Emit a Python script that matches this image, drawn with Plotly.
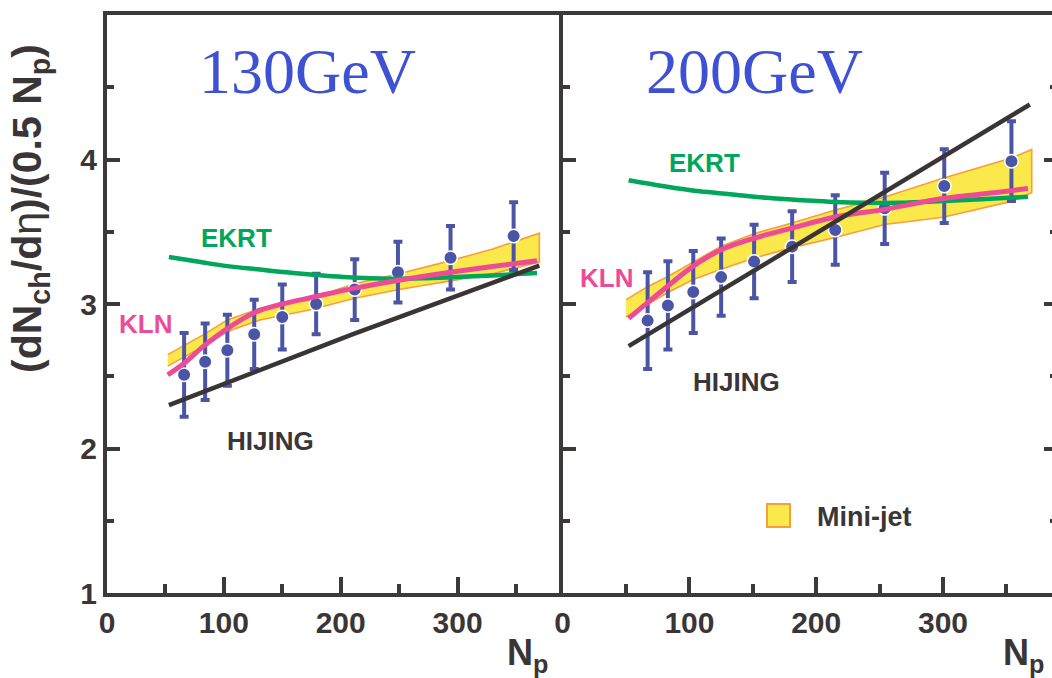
import plotly.graph_objects as go

# ---------------- data ----------------
# 130 GeV panel
np130 = [66, 84, 103, 126, 150, 179, 212, 249, 294, 348]
val130 = [2.51, 2.60, 2.68, 2.79, 2.91, 3.00, 3.10, 3.22, 3.32, 3.47]
err130 = [0.29, 0.265, 0.245, 0.24, 0.225, 0.21, 0.21, 0.21, 0.22, 0.235]

ekrt130_x = [53, 80, 103, 131, 150, 174, 214, 240, 270, 294, 330, 368]
ekrt130_y = [3.325, 3.29, 3.262, 3.238, 3.222, 3.204, 3.181, 3.175, 3.178, 3.185, 3.198, 3.215]

kln130_x = [52, 66, 83, 103, 126, 150, 175, 212, 250, 294, 330, 368]
kln130_y = [2.51, 2.59, 2.71, 2.83, 2.94, 3.00, 3.045, 3.11, 3.165, 3.22, 3.26, 3.30]

hij130_x = [53, 210, 370]
hij130_y = [2.30, 2.79, 3.265]

mj130_x = [52, 65, 83, 103, 131, 174, 212, 250, 294, 330, 370]
mj130_up = [2.65, 2.71, 2.79, 2.89, 2.97, 3.04, 3.14, 3.21, 3.30, 3.38, 3.49]
mj130_lo = [2.57, 2.63, 2.71, 2.81, 2.89, 2.96, 3.04, 3.10, 3.16, 3.21, 3.29]

# 200 GeV panel
np200 = [67, 83, 103, 125, 151, 181, 215, 254, 301, 354]
val200 = [2.885, 2.99, 3.083, 3.186, 3.294, 3.397, 3.512, 3.662, 3.816, 3.988]
err200 = [0.335, 0.305, 0.283, 0.268, 0.255, 0.245, 0.24, 0.247, 0.255, 0.276]

ekrt200_x = [52, 80, 108, 132, 161, 190, 214, 240, 266, 300, 330, 367]
ekrt200_y = [3.857, 3.815, 3.78, 3.76, 3.735, 3.718, 3.706, 3.70, 3.70, 3.712, 3.725, 3.742]

kln200_x = [52, 67, 83, 103, 125, 151, 181, 214, 254, 300, 340, 367]
kln200_y = [2.90, 3.01, 3.125, 3.262, 3.375, 3.455, 3.525, 3.60, 3.655, 3.73, 3.77, 3.80]

hij200_x = [52, 368.5]
hij200_y = [2.708, 4.381]

mj200_x = [50, 67, 83, 103, 125, 152, 181, 215, 254, 300, 354, 370]
mj200_up = [3.03, 3.12, 3.19, 3.29, 3.40, 3.49, 3.56, 3.65, 3.74, 3.87, 4.01, 4.07]
mj200_lo = [2.91, 3.00, 3.08, 3.17, 3.24, 3.32, 3.39, 3.46, 3.55, 3.60, 3.71, 3.77]

x_ticks = [0, 100, 200, 300]
x_minor = [50, 150, 250, 350]
y_ticks = [1, 2, 3, 4]
y_minor = [1.5, 2.5, 3.5, 4.5]

# ---------------- style ----------------
W, H = 1052, 678
L, R, T, B = 107, 0, 15, 85
PW, PH = W - L - R, H - T - B
SPLIT = (562.7 - L) / PW

AX = "#3d3939"
TXT = "#3a3536"
BLUE = "#4b55a5"
GREEN = "#00a659"
PINK = "#ec4c97"
BLACK = "#3a3535"
YELLOW = "#fbe84a"
ORANGE = "#f5a03c"
TITLE_BLUE = "#3f51d3"
SANS = "Liberation Sans, Arial, Helvetica, sans-serif"
SERIF = "Liberation Serif, Times New Roman, serif"


def px(xp):
    return (xp - L) / PW


def py(yp):
    return (H - B - yp) / PH


fig = go.Figure()

panels = [
    ("x", "y", np130, val130, err130, ekrt130_x, ekrt130_y, kln130_x, kln130_y,
     hij130_x, hij130_y, mj130_x, mj130_up, mj130_lo),
    ("x2", "y2", np200, val200, err200, ekrt200_x, ekrt200_y, kln200_x, kln200_y,
     hij200_x, hij200_y, mj200_x, mj200_up, mj200_lo),
]

for (xa, ya, nx, vy, ey, ex, eyk, kx, ky, hx, hy, mx, mup, mlo) in panels:
    fig.add_trace(go.Scatter(
        x=mx + mx[::-1], y=mup + mlo[::-1], mode="lines", fill="toself",
        fillcolor=YELLOW, line=dict(color=ORANGE, width=1.6),
        xaxis=xa, yaxis=ya, hoverinfo="skip", showlegend=False))
    fig.add_trace(go.Scatter(
        x=nx, y=vy, mode="markers",
        marker=dict(size=13.5, color=BLUE, line=dict(color="white", width=1.5)),
        error_y=dict(type="data", array=ey, visible=True, color=BLUE,
                     thickness=4, width=4.5),
        xaxis=xa, yaxis=ya, showlegend=False))
    fig.add_trace(go.Scatter(
        x=ex, y=eyk, mode="lines", line=dict(color=GREEN, width=4.5, shape="spline"),
        xaxis=xa, yaxis=ya, showlegend=False))
    fig.add_trace(go.Scatter(
        x=kx, y=ky, mode="lines", line=dict(color=PINK, width=5, shape="spline"),
        xaxis=xa, yaxis=ya, showlegend=False))
    fig.add_trace(go.Scatter(
        x=hx, y=hy, mode="lines", line=dict(color=BLACK, width=4.5),
        xaxis=xa, yaxis=ya, showlegend=False))

# helper trace for right-side tick axis
fig.add_trace(go.Scatter(x=[None], y=[None], xaxis="x2", yaxis="y3",
                         showlegend=False, hoverinfo="skip"))

tickfont = dict(family=SANS, size=30, color=TXT, weight="bold")

xcommon = dict(showline=True, linewidth=4, linecolor=AX, mirror=True,
               ticks="inside", ticklen=16, tickwidth=3.5, tickcolor=AX,
               tickvals=x_ticks, showgrid=False, zeroline=False,
               minor=dict(tickvals=x_minor, ticks="inside", ticklen=9,
                          tickwidth=3.5, tickcolor=AX),
               tickfont=tickfont)
ycommon = dict(showline=True, linewidth=4, linecolor=AX, mirror=False,
               ticks="inside", ticklen=13, tickwidth=3.5, tickcolor=AX,
               tickvals=y_ticks, range=[1, 5], showgrid=False, zeroline=False,
               minor=dict(tickvals=y_minor, ticks="inside", ticklen=7,
                          tickwidth=3.5, tickcolor=AX),
               tickfont=tickfont)

fig.update_layout(
    width=W, height=H,
    margin=dict(l=L, r=R, t=T, b=B, pad=0),
    paper_bgcolor="white", plot_bgcolor="white",
    showlegend=False,
    xaxis=dict(domain=[0, SPLIT], range=[0, 390], anchor="y", **xcommon),
    xaxis2=dict(domain=[SPLIT, 1], range=[0, 386], anchor="y2", **xcommon),
    yaxis=dict(domain=[0, 1], anchor="x", showticklabels=True, **ycommon),
    yaxis2=dict(domain=[0, 1], anchor="x2", showticklabels=False, **ycommon),
    yaxis3=dict(overlaying="y2", anchor="x2", side="right", range=[1, 5],
                showline=False, showgrid=False, zeroline=False,
                ticks="inside", ticklen=8, tickwidth=3.5, tickcolor=AX,
                tickvals=y_ticks, showticklabels=False,
                minor=dict(tickvals=y_minor, ticks="inside", ticklen=2,
                           tickwidth=3.5, tickcolor=AX)),
)


def ann(text, xp, yp, size, color, family=SANS, weight="bold", xanchor="center",
        yanchor="middle", angle=0):
    fig.add_annotation(text=text, xref="paper", yref="paper", x=px(xp), y=py(yp),
                       xanchor=xanchor, yanchor=yanchor, showarrow=False,
                       textangle=angle,
                       font=dict(family=family, size=size, color=color, weight=weight))


ann("130GeV", 307.5, 72, 64, TITLE_BLUE, family=SERIF, weight="normal")
ann("200GeV", 754, 72, 64, TITLE_BLUE, family=SERIF, weight="normal")
ann("EKRT", 236, 238, 26, GREEN)
ann("EKRT", 704, 163, 26, GREEN)
ann("KLN", 145, 324, 26, PINK)
ann("KLN", 606, 278, 26, PINK)
ann("HIJING", 270, 441, 26, TXT)
ann("HIJING", 736, 382, 26, TXT)
ann("Mini-jet", 815, 517, 27, TXT, xanchor="left")
ann("N<sub>p</sub>", 505, 655, 36, TXT, xanchor="left")
ann("N<sub>p</sub>", 1001, 655, 36, TXT, xanchor="left")
ann("(dN<sub>ch</sub>/d<span style='font-weight:normal'>η</span>)/(0.5 N<sub>p</sub>)",
    30, 209, 41, TXT, angle=-90)

fig.add_shape(type="rect", xref="paper", yref="paper",
              x0=px(767), x1=px(790), y0=py(527), y1=py(504),
              fillcolor=YELLOW, line=dict(color=ORANGE, width=2))

fig.write_html("out.html")
